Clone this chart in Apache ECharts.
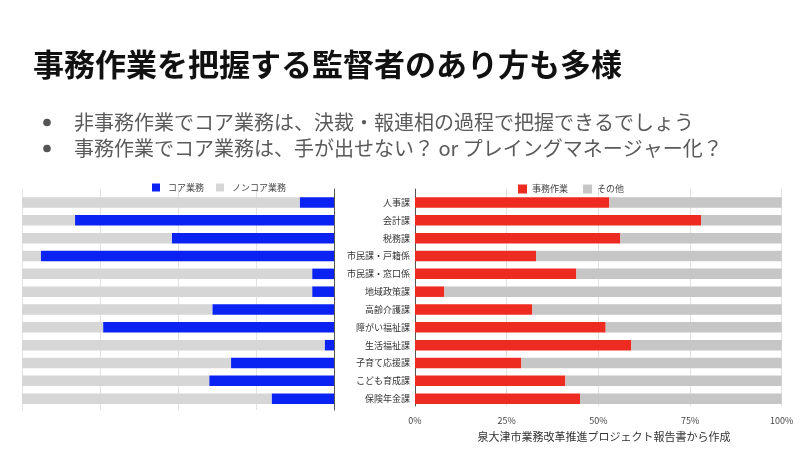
<!DOCTYPE html>
<html><head><meta charset="utf-8">
<script src="https://cdn.jsdelivr.net/npm/echarts@6/dist/echarts.min.js"></script>
<style>html,body{margin:0;padding:0;background:#fff}#c{width:800px;height:452px}</style>
</head><body><div id="c"></div>
<script>
const categories = ['人事課','会計課','税務課','市民課・戸籍係','市民課・窓口係','地域政策課','高齢介護課','障がい福祉課','生活福祉課','子育て応援課','こども育成課','保険年金課'];
const coreWork = [11, 83, 52, 94, 7, 7, 39, 74, 3, 33, 40, 20];
const nonCoreWork = [89, 17, 48, 6, 93, 93, 61, 26, 97, 67, 60, 80];
const clericalWork = [53, 78, 56, 33, 44, 8, 32, 52, 59, 29, 41, 45];
const otherWork = [47, 22, 44, 67, 56, 92, 68, 48, 41, 71, 59, 55];
const pctTicks = ['0%','25%','50%','75%','100%'];
const titleText = '事務作業を把握する監督者のあり方も多様';
const bullet1 = '非事務作業でコア業務は、決裁・報連相の過程で把握できるでしょう';
const bullet2 = '事務作業でコア業務は、手が出せない？ or プレイングマネージャー化？';
const sourceText = '泉大津市業務改革推進プロジェクト報告書から作成';

const FONT = '"Noto Sans CJK JP", "Noto Sans", sans-serif';
const chart = echarts.init(document.getElementById('c'), null, {renderer: 'canvas'});
const barTop = 193.6, barH = 214;
const hiddenX = {type: 'value', min: 0, max: 100, show: false};
const option = {
  backgroundColor: '#fff',
  animation: false,
  textStyle: {fontFamily: FONT},
  grid: [
    {left: 22, right: 466, top: barTop, height: barH},
    {left: 22, right: 466, top: 189, bottom: 42},
    {left: 415, right: 18.3, top: barTop, height: barH},
    {left: 415, right: 18.3, top: 189, bottom: 46}
  ],
  xAxis: [
    Object.assign({gridIndex: 0, inverse: true}, hiddenX),
    {gridIndex: 1, type: 'value', min: 0, max: 100, interval: 25, inverse: true,
     axisLine: {show: false}, axisTick: {show: false}, axisLabel: {show: false},
     splitLine: {lineStyle: {color: '#e2e2e2', width: 1}}},
    Object.assign({gridIndex: 2}, hiddenX),
    {gridIndex: 3, type: 'value', min: 0, max: 100, interval: 25,
     axisLine: {show: false}, axisTick: {show: false},
     axisLabel: {margin: 10, fontSize: 9, color: '#444', fontFamily: FONT,
       formatter: v => pctTicks[Math.round(v / 25)]},
     splitLine: {lineStyle: {color: '#e2e2e2', width: 1}}}
  ],
  yAxis: [
    {gridIndex: 0, type: 'category', data: categories, inverse: true, show: false},
    {gridIndex: 1, type: 'category', data: categories, inverse: true, position: 'right',
     axisLine: {show: true, lineStyle: {color: '#555', width: 1}}, axisTick: {show: false},
     axisLabel: {show: false}, splitLine: {show: false}},
    {gridIndex: 2, type: 'category', data: categories, inverse: true,
     axisLine: {show: false}, axisTick: {show: false},
     axisLabel: {margin: 5, fontSize: 9, color: '#333', fontFamily: FONT}},
    {gridIndex: 3, type: 'category', data: categories, inverse: true,
     axisLine: {show: true, lineStyle: {color: '#555', width: 1}}, axisTick: {show: false},
     axisLabel: {show: false}, splitLine: {show: false}}
  ],
  legend: [
    {data: ['コア業務', 'ノンコア業務'], left: 147, top: 178, itemWidth: 8, itemHeight: 8,
     itemGap: 12, icon: 'rect', textStyle: {fontSize: 9, color: '#444', fontFamily: FONT, padding: [0, 0, 0, 3]}},
    {data: ['事務作業', 'その他'], left: 513, top: 179.5, itemWidth: 9, itemHeight: 9,
     itemGap: 15, icon: 'rect', textStyle: {fontSize: 9, color: '#444', fontFamily: FONT}}
  ],
  series: [
    {name: 'コア業務', type: 'bar', stack: 'L', xAxisIndex: 0, yAxisIndex: 0, data: coreWork,
     barCategoryGap: '41%', itemStyle: {color: '#0a23f2'}},
    {name: 'ノンコア業務', type: 'bar', stack: 'L', xAxisIndex: 0, yAxisIndex: 0, data: nonCoreWork,
     barCategoryGap: '41%', itemStyle: {color: '#d6d6d6'}},
    {name: '事務作業', type: 'bar', stack: 'R', xAxisIndex: 2, yAxisIndex: 2, data: clericalWork,
     barCategoryGap: '41%', itemStyle: {color: '#ee2b20'}},
    {name: 'その他', type: 'bar', stack: 'R', xAxisIndex: 2, yAxisIndex: 2, data: otherWork,
     barCategoryGap: '41%', itemStyle: {color: '#c6c6c6'}}
  ],
  graphic: [
    {type: 'text', left: 33, top: 49, style: {text: titleText, font: 'bold 31px ' + FONT, fill: '#111'}},
    {type: 'circle', shape: {cx: 47, cy: 122.5, r: 3.8}, style: {fill: '#555'}},
    {type: 'circle', shape: {cx: 47, cy: 148.5, r: 3.8}, style: {fill: '#555'}},
    {type: 'text', x: 74, y: 122, style: {text: bullet1, font: '20px ' + FONT, fill: '#5a5a5a', verticalAlign: 'middle'}},
    {type: 'text', x: 74, y: 148, style: {text: bullet2, font: '20px ' + FONT, fill: '#5a5a5a', verticalAlign: 'middle'}},
    {type: 'text', x: 604, y: 437, style: {text: sourceText, font: '11px ' + FONT, fill: '#333', align: 'center', verticalAlign: 'middle'}}
  ]
};
chart.setOption(option);
</script></body></html>
